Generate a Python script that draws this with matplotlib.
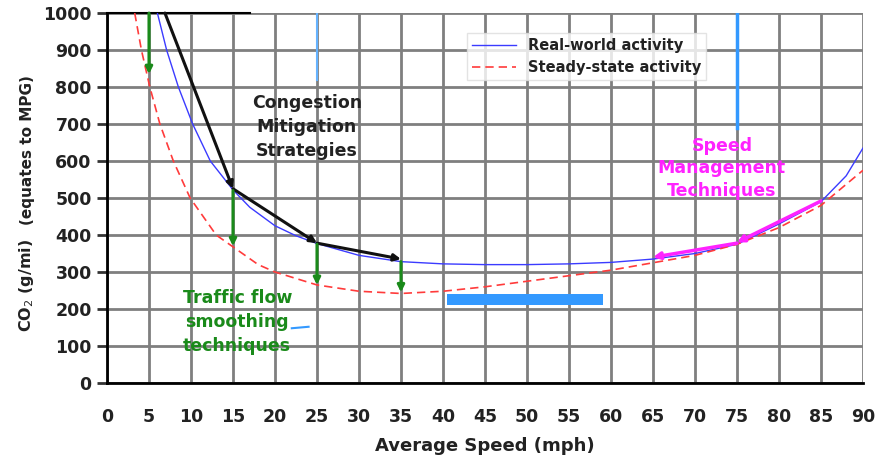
import matplotlib
matplotlib.use("Agg")
import matplotlib.pyplot as plt

plt.rcParams['font.family'] = ['DejaVu Sans']

# speed (mph) and CO2 (g/mi)
speed_real = [6.0, 7.1, 8.5, 10.2, 12.3, 15.0, 17, 20, 22.5, 25, 30, 35, 40, 45, 50, 55, 60, 65, 70, 75, 80, 85, 88, 90]
co2_real = [1000, 900, 800, 700, 600, 522, 475, 425, 398, 377, 345, 328, 322, 320, 320, 322, 326, 335, 350, 375, 430, 490, 560, 635]

speed_steady = [3.3, 4.1, 5.1, 6.3, 7.9, 9.9, 13, 15, 18, 20, 25, 30, 35, 40, 45, 50, 55, 60, 65, 70, 75, 80, 85, 90]
co2_steady = [1000, 900, 800, 700, 600, 500, 400, 368, 320, 300, 265, 248, 242, 248, 260, 275, 290, 305, 325, 345, 375, 420, 480, 575]

# arrows: (x0, y0, x1, y1)
black_arrows = [(6.9, 1000, 15, 525), (15, 525, 25, 378), (25, 378, 35, 335)]
green_arrows = [(5, 1000, 5, 835), (15, 520, 15, 370), (25, 375, 25, 265), (35, 328, 35, 245)]
magenta_arrows = [(85, 492, 75, 380), (75, 378, 65, 340)]

xticks = list(range(0, 95, 5))
yticks = list(range(0, 1100, 100))

fig = plt.figure(figsize=(8.77, 4.63), dpi=100)
ax = fig.add_axes([0.122, 0.1728, 0.862, 0.799])

ax.set_xlim(0, 90)
ax.set_ylim(0, 1000)
ax.set_xticks(xticks)
ax.set_yticks(yticks)
ax.grid(True, color="#7f7f7f", linewidth=2.0)
ax.set_axisbelow(True)
for s in ["top", "right"]:
    ax.spines[s].set_visible(False)
ax.spines["left"].set_linewidth(2)
ax.spines["bottom"].set_linewidth(2)
ax.tick_params(axis="x", length=0, pad=18, labelsize=12.5)
ax.tick_params(axis="y", length=7, width=2, color="#333333", pad=4, labelsize=12.5)
for lab in ax.get_xticklabels() + ax.get_yticklabels():
    lab.set_fontweight("bold")
    lab.set_color("#222222")

# image artifacts (blue smudges)
ax.plot([75, 75], [1000, 690], color="#3399ff", linewidth=2.5, zorder=2)
ax.plot([25, 25], [1000, 820], color="#66b3ff", linewidth=1.5, zorder=2)
ax.fill_between([40.5, 59], 210, 240, color="#3399ff", zorder=2, linewidth=0)
ax.plot([22, 24], [148, 152], color="#3399ff", linewidth=1.5, zorder=2)
ax.plot([0, 17], [1000, 1000], color="black", linewidth=1.5, clip_on=False, zorder=3)

ax.plot(speed_real, co2_real, color="#3b3bff", linewidth=1.0, label="Real-world activity", zorder=4)
ax.plot(speed_steady, co2_steady, color="#ff3b3b", linewidth=1.2, linestyle=(0, (5, 3)),
        label="Steady-state activity", zorder=4)

for x0, y0, x1, y1 in black_arrows:
    ax.annotate("", xy=(x1, y1), xytext=(x0, y0),
                arrowprops=dict(arrowstyle="-|>", color="#111111", lw=2.2, mutation_scale=10,
                                shrinkA=0, shrinkB=0), zorder=5)
for x0, y0, x1, y1 in green_arrows:
    ax.annotate("", xy=(x1, y1), xytext=(x0, y0),
                arrowprops=dict(arrowstyle="-|>", color="#1a8a1a", lw=2.2, mutation_scale=10,
                                shrinkA=0, shrinkB=0), zorder=5)
for x0, y0, x1, y1 in magenta_arrows:
    ax.annotate("", xy=(x1, y1), xytext=(x0, y0),
                arrowprops=dict(arrowstyle="-|>", color="#ff22ff", lw=2.5, mutation_scale=10,
                                shrinkA=0, shrinkB=0), zorder=5)

ax.text(23.8, 692, "Congestion\nMitigation\nStrategies", ha="center", va="center",
        fontsize=12.5, fontweight="bold", color="#222222", linespacing=1.45, zorder=6)
ax.text(73.2, 580, "Speed\nManagement\nTechniques", ha="center", va="center",
        fontsize=12.5, fontweight="bold", color="#ff22ff", linespacing=1.3, zorder=6)
ax.text(15.5, 165, "Traffic flow\nsmoothing\ntechniques", ha="center", va="center",
        fontsize=12.5, fontweight="bold", color="#1a8a1a", linespacing=1.4, zorder=6)

leg = ax.legend(loc="upper left", bbox_to_anchor=(0.467, 0.965), fontsize=10.5, frameon=True,
                fancybox=False, edgecolor="#dddddd", handlelength=3.0, borderpad=0.35,
                labelspacing=0.45)
leg.get_frame().set_linewidth(1.0)
for t in leg.get_texts():
    t.set_color("#222222")
    t.set_fontweight("bold")

ax.set_xlabel("Average Speed (mph)", fontsize=13, fontweight="bold", color="#222222", labelpad=8)

fig.text(0.030, 0.384, "CO$_2$ (g/mi)", rotation=90, ha="center", va="center",
         fontsize=11.5, fontweight="bold", color="#222222")
fig.text(0.031, 0.676, "(equates to MPG)", rotation=90, ha="center", va="center",
         fontsize=11, fontweight="bold", color="#222222")

fig.savefig("out.png", dpi=100)
